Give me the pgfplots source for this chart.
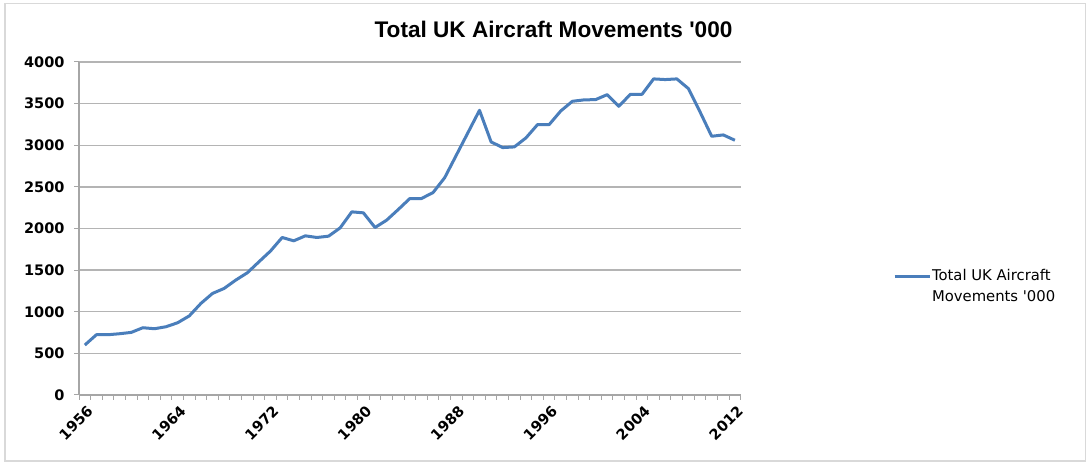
\documentclass[border=0pt]{standalone}
\usepackage{pgfplots}
\usepackage{pgfplotstable}
\pgfplotsset{compat=1.18}
\usepackage{fontspec}
\setmainfont{DejaVu Sans}
\newfontfamily\titlefont{Liberation Sans}
\definecolor{xlblue}{HTML}{4A7EBB}
\definecolor{gridgray}{HTML}{B4B4B4}
\definecolor{axgray}{HTML}{A6A6A6}

\pgfplotstableread{
year value
1956 600
1957 724
1958 724
1959 736
1960 752
1961 808
1962 796
1963 820
1964 868
1965 950
1966 1100
1967 1220
1968 1280
1969 1380
1970 1468
1971 1600
1972 1730
1973 1892
1974 1852
1975 1912
1976 1892
1977 1908
1978 2008
1979 2200
1980 2188
1981 2012
1982 2100
1983 2228
1984 2360
1985 2360
1986 2432
1987 2610
1988 2880
1989 3150
1990 3420
1991 3040
1992 2972
1993 2980
1994 3088
1995 3248
1996 3248
1997 3412
1998 3528
1999 3545
2000 3548
2001 3608
2002 3468
2003 3612
2004 3612
2005 3797
2006 3789
2007 3797
2008 3680
2009 3400
2010 3108
2011 3124
2012 3060
}\movements

\begin{document}
\begin{tikzpicture}[x=1pt,y=1pt]
\useasboundingbox (0,0) rectangle (1087,463);
\fill[white] (0,0) rectangle (1087,463);
\draw[gray!30, line width=1.5pt] (5,2) rectangle (1085.5,459.5);
\node[anchor=base, font=\titlefont\bfseries\fontsize{22.6}{26}\selectfont]
  at (553.5,425) {Total UK Aircraft Movements \textquotesingle000};

\begin{axis}[
  at={(79pt,68pt)}, anchor=south west,
  scale only axis, width=661.7pt, height=333pt,
  xmin=1955.5, xmax=2012.5, ymin=0, ymax=4000,
  axis x line*=bottom, axis y line*=left,
  axis line style={axgray, line width=1.2pt, -},
  xtick={1956,1964,...,2012},
  minor xtick={1955.5,1956.5,...,2012.5},
  ytick={0,500,...,4000},
  scaled y ticks=false,
  tick align=outside,
  major tick length=5pt, minor tick length=5pt,
  tick style={axgray, line width=1pt},
  major x tick style={draw=none},
  ymajorgrids, grid style={gridgray, line width=1.3pt},
  /pgf/number format/assume math mode=true,
  /pgf/number format/1000 sep={},
  ticklabel style={font=\bfseries\fontsize{14.5}{17}\selectfont},
  yticklabel style={xshift=-6pt},
  xticklabel style={rotate=45, anchor=east, xshift=1pt, yshift=-10pt},
  legend style={draw=none, fill=none, at={(1.23,0.327)}, anchor=west,
    inner sep=0pt, cells={anchor=west},
    nodes={inner sep=1pt, align=left, font=\fontsize{14.8}{21}\selectfont}},
  legend image code/.code={\draw[#1] (0pt,10pt) -- (35pt,10pt);},
]
\addplot[xlblue, line width=3pt, line join=round] table[x=year, y=value] {\movements};
\addlegendentry{Total UK Aircraft\\Movements \textquotesingle000}
\end{axis}
\end{tikzpicture}
\end{document}
